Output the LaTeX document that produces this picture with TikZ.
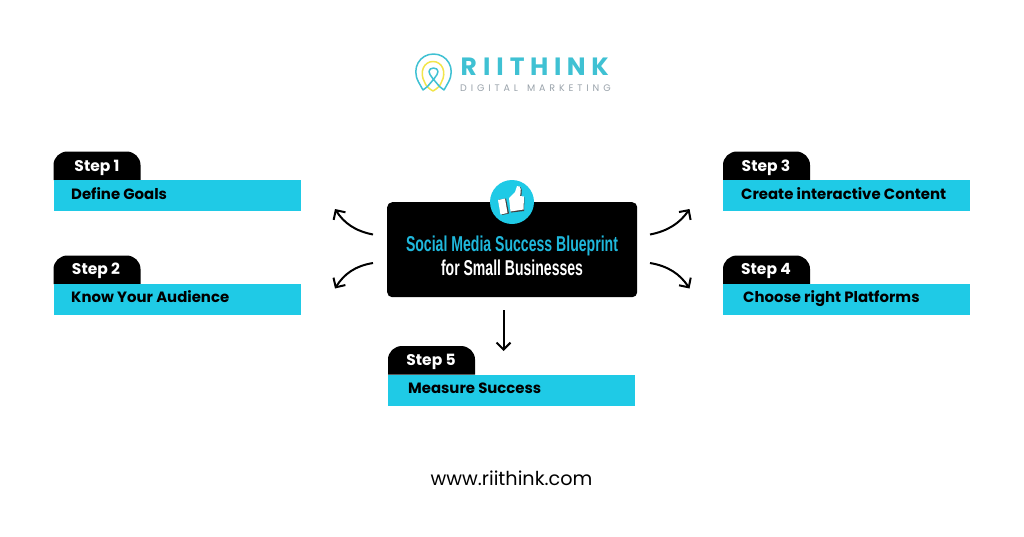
\documentclass[tikz,border=0pt]{standalone}
\usepackage{fontspec}
\setmainfont{Poppins}
\newfontfamily\condfont{Liberation Sans}
\usetikzlibrary{arrows.meta,positioning}
\definecolor{cy}{HTML}{1FCAE6}
\definecolor{logoteal}{HTML}{3FC1D3}
\definecolor{logoyel}{HTML}{F2E54B}
\definecolor{logogray}{HTML}{9AA3AB}
\definecolor{titleblue}{HTML}{1FB8DC}
\tikzset{
  x=1pt,y=-1pt,
  band/.style={fill=cy,draw=none,minimum width=247pt,minimum height=31.2pt,inner sep=0pt,anchor=north west},
  steplabel/.style={text=white,font=\bfseries\fontsize{15.5}{15}\selectfont,inner sep=0pt,anchor=base},
  tasklabel/.style={text=black,font=\bfseries\fontsize{14.9}{15}\selectfont,inner sep=0pt,anchor=base west},
  flow/.style={-{Straight Barb[length=7pt,width=14pt,line width=2pt]},line width=2pt,black},
  logoline/.style={line width=1.5pt,line join=round,line cap=round}
}
\newcommand{\steptab}[2]{% x, y-top of band
  \fill[black] (#1,#2) -- (#1,#2-15) arc[start angle=180,end angle=90,x radius=14,y radius=-13.5] -- (#1+73,#2-28.5) arc[start angle=90,end angle=0,x radius=14,y radius=-13.5] -- (#1+87,#2) -- cycle;
}
\newcommand{\condtext}[2]{\resizebox{#1}{\height}{\condfont\bfseries\fontsize{21.5}{22}\selectfont #2}}
\begin{document}
\begin{tikzpicture}
\useasboundingbox (0,0) rectangle (1024,536);
\fill[white] (0,0) rectangle (1024,536);

% logo
\draw[logoline,logoyel] (433,91) .. controls (428,88) and (426,86) .. (424.5,82)
  .. controls (419,72) and (424,61.5) .. (433,61.5)
  .. controls (442,61.5) and (447,72) .. (441.5,82)
  .. controls (440,86) and (438,88) .. (433,91);
\draw[logoline,logoteal] (423,90) -- (418.5,82) .. controls (411,68) and (420,54) .. (433.5,54)
  .. controls (447,54) and (456,68) .. (448.5,82) -- (444,90) -- (439.5,86.5)
  .. controls (435,81) and (429,75) .. (429,71.5)
  .. controls (429,69.5) and (431,68) .. (433.5,68)
  .. controls (436,68) and (438,69.5) .. (438,71.5)
  .. controls (438,75) and (432,81) .. (427.5,86.5) -- cycle;
\node[inner sep=0pt,anchor=base west,text=logoteal,font=\bfseries\fontsize{25}{25}\selectfont] (brand) at (460.5,75)
  {R\kern6pt I\kern6pt I\kern6pt T\kern5.6pt H\kern5.6pt I\kern5.6pt N\kern5.6pt K};
\node[inner sep=0pt,anchor=base west,text=logogray,font=\fontsize{9.5}{10}\selectfont] (sub) at (460,91.5)
  {D\kern3.9pt I\kern3.9pt G\kern3.9pt I\kern3.9pt T\kern3.9pt A\kern3.9pt L\kern9pt M\kern3.9pt A\kern3.9pt R\kern3.9pt K\kern3.9pt E\kern3.9pt T\kern3.9pt I\kern3.9pt N\kern3.9pt G};

% central box
\node[fill=black,rounded corners=5pt,minimum width=250pt,minimum height=95pt,inner sep=0pt,anchor=north west] (main) at (387,202) {};
\node[inner sep=0pt,anchor=base,text=titleblue] (t1) at (512,251.5) {\condtext{212pt}{Social Media Success Blueprint}};
\node[inner sep=0pt,anchor=base,text=white] (t2) at (512,275) {\condtext{142pt}{for Small Businesses}};

% thumb badge
\node[circle,fill=cy,minimum size=44pt,inner sep=0pt] (badge) at (512,202) {};
\fill[black!75] (499,199.5) -- (506,198.5) -- (509,213.5) -- (502,215) -- cycle;
\fill[black!75] (510,198) -- (516,192.5) -- (518,186.5) .. controls (523,186) and (522,193) .. (521,197) -- (524.5,197.5) -- (524,211) -- (511,212.5) -- cycle;
\fill[white] (498,200) -- (505,198.5) -- (507.5,213) -- (500.5,214.5) -- cycle;
\fill[white] (509,198) -- (515,192) -- (517,186) .. controls (522,185) and (521,192) .. (520,196) -- (524,196.5) -- (523.5,209.5) -- (510.5,211.5) -- cycle;

% steps
\steptab{53.5}{180}
\node[band] (b1) at (53.5,180) {};
\node[steplabel] (s1) at (97,171) {Step 1};
\node[tasklabel] (l1) at (71,199) {Define Goals};

\steptab{53.5}{284}
\node[band] (b2) at (53.5,284) {};
\node[steplabel] (s2) at (96,274) {Step 2};
\node[tasklabel] (l2) at (71,302) {Know Your Audience};

\steptab{723}{180}
\node[band] (b3) at (723,180) {};
\node[steplabel] (s3) at (766,171) {Step 3};
\node[tasklabel] (l3) at (741,199) {Create interactive Content};

\steptab{723}{284}
\node[band] (b4) at (723,284) {};
\node[steplabel] (s4) at (766,274) {Step 4};
\node[tasklabel] (l4) at (743,302) {Choose right Platforms};

\steptab{388}{374.5}
\node[band] (b5) at (388,374.5) {};
\node[steplabel] (s5) at (431,365) {Step 5};
\node[tasklabel] (l5) at (408,393) {Measure Success};

% connector ends
\coordinate (a1) at (373,234.5);
\coordinate (e1) at (335,209);
\coordinate (a2) at (373,263);
\coordinate (e2) at (335,288.5);
\coordinate (a3) at (650,234.5);
\coordinate (e3) at (689.5,209);
\coordinate (a4) at (650,263);
\coordinate (e4) at (689.5,288.5);
\coordinate (a5) at (503.5,310);
\coordinate (e5) at (503.5,351);

\draw[flow] (a1) .. controls (355,231) and (344,223) .. (e1);
\draw[flow] (a2) .. controls (355,266) and (344,274) .. (e2);
\draw[flow] (a3) .. controls (668,231) and (680,223) .. (e3);
\draw[flow] (a4) .. controls (668,266) and (680,274) .. (e4);
\draw[flow] (a5) -- (e5);

\node[inner sep=0pt,text=black,font=\fontsize{19.2}{19}\selectfont] (url) at (511.5,478) {www.riithink.com};
\end{tikzpicture}
\end{document}
